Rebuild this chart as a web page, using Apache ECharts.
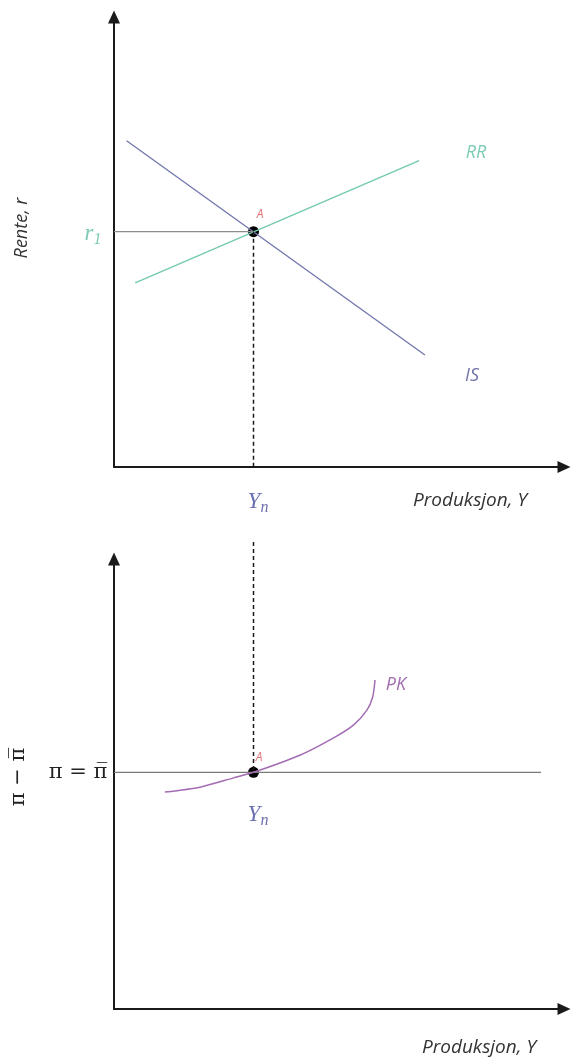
<!DOCTYPE html>
<html>
<head>
<meta charset="utf-8">
<title>IS-RR og PK</title>
<script src="https://cdn.jsdelivr.net/npm/echarts@6/dist/echarts.min.js"></script>
<style>
  html, body { margin: 0; padding: 0; background: #fff; }
  #chart { width: 571px; height: 1061px; }
</style>
</head>
<body>
<div id="chart"></div>
<script>
  // verdier lest av figuren (akser 0..100)
  var isLine = [[2.8, 72.5], [69.1, 24.9]]
  var rrLine = [[4.7, 40.9], [67.8, 68.1]]
  var pointA = [31, 52.3]
  var rente1 = 52.3
  var piLevel = 52.6
  var piLineEnd = 94.9
  var pkCurve = [[11.3, 48.2], [19.1, 49.3], [26.4, 51.3], [31, 52.6], [41.3, 56.4],
    [48.7, 60.2], [53.2, 63.1], [56.2, 66.4], [57.5, 69.4], [58, 73.1]
  ]
  var dashTopOfLower = 103.8

  var axisTitleY1 = 'Rente, r'
  var axisTitleX = 'Produksjon, Y'
  var axisTitleY2 = 'π − π̅'
  var piLabel = 'π = π̅'

  var chart = echarts.init(document.getElementById('chart'))

  var sans = '"Open Sans", "DejaVu Sans", sans-serif'
  var serif = '"Liberation Serif", "DejaVu Serif", serif'
  var piFont = '"DejaVu Serif", serif'

  function axisLine() {
    return {
      show: true,
      onZero: false,
      symbol: ['none', 'triangle'],
      symbolSize: [12, 13],
      lineStyle: { color: '#1a1a1a', width: 2 }
    }
  }

  function valueAxis(idx) {
    return {
      type: 'value',
      gridIndex: idx,
      min: 0,
      max: 100,
      axisLine: axisLine(),
      axisTick: { show: false },
      axisLabel: { show: false },
      splitLine: { show: false }
    }
  }

  function label(text, x, y, color, size, extra) {
    var el = {
      type: 'text',
      x: x,
      y: y,
      silent: true,
      style: {
        text: text,
        fill: color,
        font: 'italic ' + size + 'px ' + sans,
        align: 'center',
        verticalAlign: 'middle'
      }
    }
    if (extra) {
      Object.assign(el, extra)
    }
    return el
  }

  // r_1 og Y_n som kursiv matte-tekst med senket indeks
  function mathLabel(x, y, main, sub, color) {
    return {
      type: 'text',
      x: x,
      y: y,
      silent: true,
      style: {
        text: '{v|' + main + '}{s|' + sub + '}',
        align: 'center',
        verticalAlign: 'middle',
        rich: {
          v: { font: 'italic 23px ' + serif, fill: color },
          s: { font: 'italic 16px ' + serif, fill: color, padding: [12, 0, 0, 0] }
        }
      }
    }
  }

  chart.setOption({
    animation: false,
    grid: [
      { left: 114, top: 17, width: 450, height: 450 },
      { left: 114, top: 559, width: 450, height: 450 }
    ],
    xAxis: [valueAxis(0), valueAxis(1)],
    yAxis: [valueAxis(0), valueAxis(1)],
    series: [
      {
        name: 'IS',
        type: 'line',
        xAxisIndex: 0,
        yAxisIndex: 0,
        showSymbol: false,
        lineStyle: { color: '#7479ad', width: 1.4 },
        data: isLine
      },
      {
        name: 'RR',
        type: 'line',
        xAxisIndex: 0,
        yAxisIndex: 0,
        showSymbol: false,
        lineStyle: { color: '#74c9b1', width: 1.4 },
        data: rrLine
      },
      {
        name: 'r1',
        type: 'line',
        xAxisIndex: 0,
        yAxisIndex: 0,
        showSymbol: false,
        lineStyle: { color: '#8c8c8c', width: 1.2 },
        data: [[0, rente1], [pointA[0], rente1]]
      },
      {
        name: 'Yn topp',
        type: 'line',
        xAxisIndex: 0,
        yAxisIndex: 0,
        showSymbol: false,
        lineStyle: { color: '#1a1a1a', width: 1.5, type: [4, 3] },
        data: [[pointA[0], pointA[1]], [pointA[0], 0]]
      },
      {
        name: 'A',
        type: 'scatter',
        xAxisIndex: 0,
        yAxisIndex: 0,
        symbolSize: 11,
        itemStyle: { color: '#000', opacity: 1 },
        data: [pointA]
      },
      {
        name: 'pi',
        type: 'line',
        xAxisIndex: 1,
        yAxisIndex: 1,
        showSymbol: false,
        lineStyle: { color: '#7a7a7a', width: 1.2 },
        data: [[0, piLevel], [piLineEnd, piLevel]]
      },
      {
        name: 'Yn bunn',
        type: 'line',
        xAxisIndex: 1,
        yAxisIndex: 1,
        clip: false,
        showSymbol: false,
        lineStyle: { color: '#1a1a1a', width: 1.5, type: [4, 3] },
        data: [[pointA[0], dashTopOfLower], [pointA[0], piLevel]]
      },
      {
        name: 'PK',
        type: 'line',
        xAxisIndex: 1,
        yAxisIndex: 1,
        smooth: 0.25,
        showSymbol: false,
        lineStyle: { color: '#a46cb3', width: 1.5 },
        data: pkCurve
      },
      {
        name: 'A2',
        type: 'scatter',
        xAxisIndex: 1,
        yAxisIndex: 1,
        symbolSize: 11,
        itemStyle: { color: '#000', opacity: 1 },
        data: [[pointA[0], piLevel]]
      }
    ],
    graphic: [
      label(axisTitleY1, 22, 228, '#333', 18, { rotation: Math.PI / 2 }),
      label(axisTitleX, 470, 501, '#333', 19),
      label(axisTitleX, 479, 1048, '#333', 19),
      label('RR', 476, 153, '#7ccbb5', 18),
      label('IS', 472, 376, '#6f74a8', 18),
      label('PK', 396, 685, '#a06cb0', 18),
      label('A', 260, 215, '#e07373', 12),
      label('A', 259, 758, '#e07373', 12),
      mathLabel(93, 234, 'r', '1', '#7fcab5'),
      mathLabel(258, 502, 'Y', 'n', '#6a70b0'),
      mathLabel(258, 815, 'Y', 'n', '#6a70b0'),
      {
        type: 'text', x: 78, y: 773, silent: true,
        style: { text: piLabel, fill: '#222', font: '21px ' + piFont, align: 'center', verticalAlign: 'middle' }
      },
      {
        type: 'text', x: 19, y: 777, rotation: Math.PI / 2, silent: true,
        style: { text: axisTitleY2, fill: '#222', font: '21px ' + piFont, align: 'center', verticalAlign: 'middle' }
      }
    ]
  })
</script>
</body>
</html>
